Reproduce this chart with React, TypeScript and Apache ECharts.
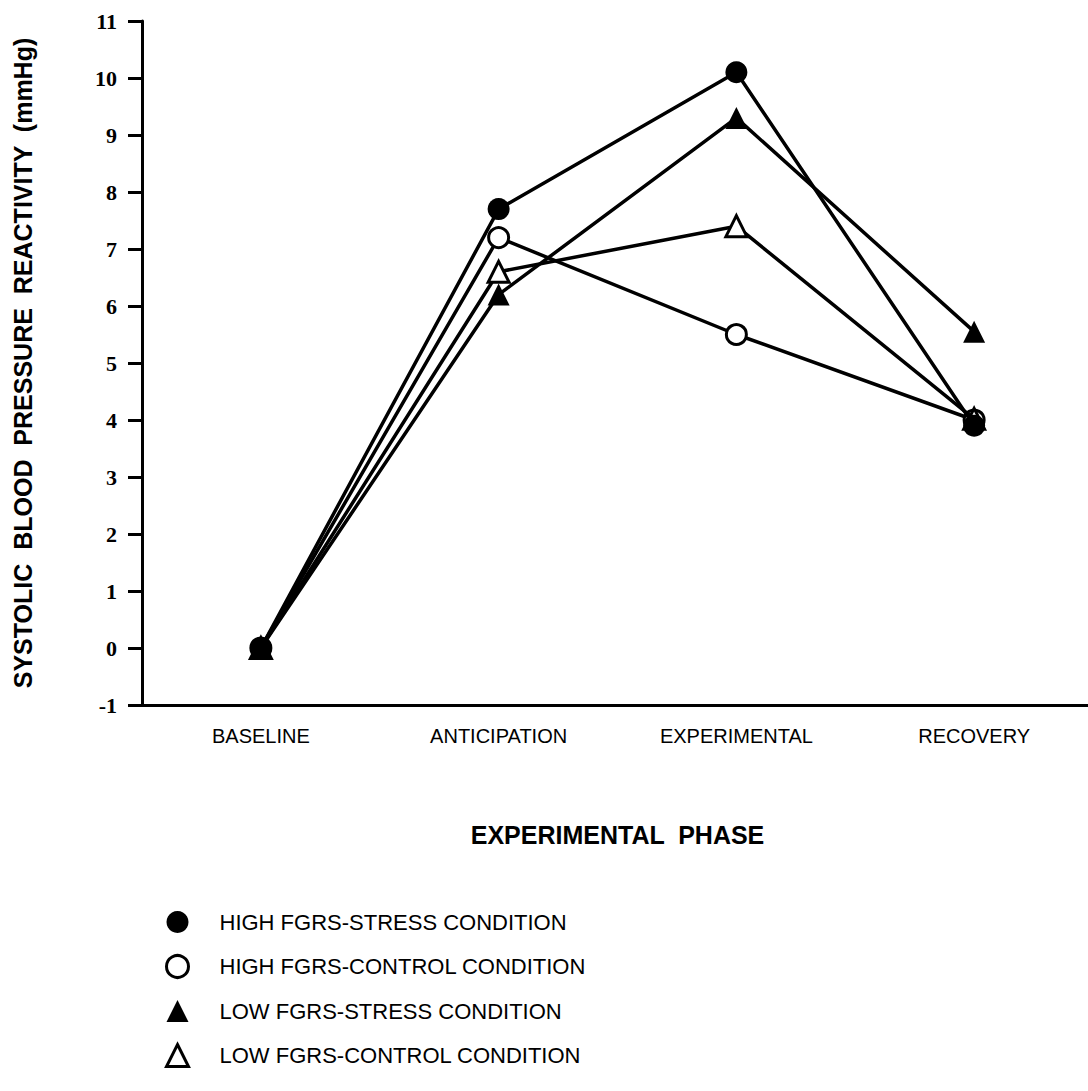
import React, { useEffect, useRef } from "react";
import * as echarts from "echarts";

const phases = ["BASELINE", "ANTICIPATION", "EXPERIMENTAL", "RECOVERY"];
const highStress = [0, 7.7, 10.1, 3.9];
const highControl = [0, 7.2, 5.5, 4.0];
const lowStress = [0, 6.2, 9.3, 5.55];
const lowControl = [0, 6.6, 7.4, 4.02];
const seriesNames = [
  "HIGH FGRS-STRESS CONDITION",
  "HIGH FGRS-CONTROL CONDITION",
  "LOW FGRS-STRESS CONDITION",
  "LOW FGRS-CONTROL CONDITION",
];
const yAxisTitle = "SYSTOLIC  BLOOD  PRESSURE  REACTIVITY  (mmHg)";
const xAxisTitle = "EXPERIMENTAL  PHASE";

const SANS = "'Liberation Sans', Arial, Helvetica, sans-serif";
const SERIF = "'Liberation Serif', 'DejaVu Serif', serif";

export default function App() {
  const ref = useRef<HTMLDivElement>(null);
  useEffect(() => {
    if (!ref.current) return;
    const chart = echarts.init(ref.current, undefined, { renderer: "svg" });
    const filled = { color: "#000", borderColor: "#000", borderWidth: 0 };
    const empty = { color: "#fff", borderColor: "#000", borderWidth: 3 };
    const mk = (name: string, data: number[], symbol: string, style: any, size: number, z: number) => ({
      name,
      type: "line",
      data,
      symbol,
      symbolSize: size,
      showSymbol: true,
      silent: true,
      z,
      lineStyle: { color: "#000", width: 3.5 },
      itemStyle: style,
      emphasis: { disabled: true },
    });
    chart.setOption({
      animation: false,
      backgroundColor: "#fff",
      grid: { left: 142, top: 21, width: 951, height: 684, containLabel: false },
      legend: {
        orient: "vertical",
        left: 160,
        top: 906,
        itemWidth: 22,
        itemHeight: 22,
        itemGap: 21,
        symbolKeepAspect: true,
        selectedMode: false,
        textStyle: { fontFamily: SANS, fontSize: 22, color: "#000", lineHeight: 22, padding: [0, 0, 0, 26] },
        data: [
          { name: seriesNames[0], icon: "circle", itemStyle: filled },
          { name: seriesNames[1], icon: "circle", itemStyle: empty },
          { name: seriesNames[2], icon: "triangle", itemStyle: filled },
          { name: seriesNames[3], icon: "triangle", itemStyle: empty },
        ],
      },
      xAxis: {
        type: "category",
        data: phases,
        boundaryGap: true,
        axisLine: { onZero: false, lineStyle: { color: "#000", width: 3 } },
        axisTick: { alignWithLabel: true, length: 8, lineStyle: { color: "#000", width: 2 } },
        axisLabel: { interval: 0, color: "#000", fontFamily: SANS, fontSize: 20, margin: 20, lineHeight: 22 },
        splitLine: { show: false },
        name: xAxisTitle,
        nameLocation: "middle",
        nameGap: 117,
        nameTextStyle: { color: "#000", fontFamily: SANS, fontWeight: "bold", fontSize: 25 },
      },
      yAxis: {
        type: "value",
        min: -1,
        max: 11,
        interval: 1,
        axisLine: { show: true, lineStyle: { color: "#000", width: 3 } },
        axisTick: { show: true, length: 14, lineStyle: { color: "#000", width: 3 } },
        axisLabel: { color: "#000", fontFamily: SERIF, fontWeight: "bold", fontSize: 22, margin: 25 },
        splitLine: { show: false },
        name: yAxisTitle,
        nameLocation: "middle",
        nameRotate: 90,
        nameGap: 107,
        nameTextStyle: { color: "#000", fontFamily: SANS, fontWeight: "bold", fontSize: 25 },
      },
      series: [
        mk(seriesNames[1], highControl, "circle", empty, 20, 2),
        mk(seriesNames[3], lowControl, "triangle", empty, 21, 3),
        mk(seriesNames[2], lowStress, "triangle", filled, 22, 4),
        mk(seriesNames[0], highStress, "circle", filled, 22, 5),
      ],
    });
    return () => chart.dispose();
  }, []);
  return (
    <div
      ref={ref}
      style={{ position: "fixed", left: 0, top: 0, width: 1100, height: 1091, background: "#fff" }}
    />
  );
}
